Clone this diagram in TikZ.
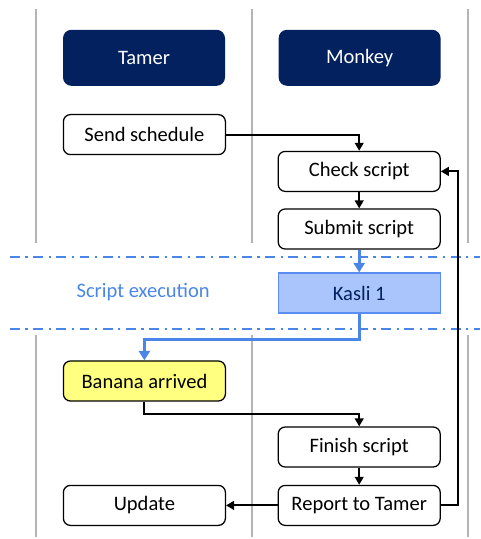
\documentclass[tikz,border=0pt]{standalone}
\usepackage{fontspec}
\setmainfont{Carlito}
\usepackage{tikz}
\usetikzlibrary{arrows.meta, positioning, calc}
\definecolor{navy}{HTML}{03215F}
\definecolor{execblue}{HTML}{4A86E8}
\definecolor{kaslifill}{HTML}{A9C5FB}
\definecolor{kasliedge}{HTML}{5B8EF5}
\definecolor{banana}{HTML}{FFFF80}
\definecolor{lanegray}{HTML}{B4B4B4}

\begin{document}
\begin{tikzpicture}[
  header/.style={rectangle, fill=navy, text=white,
    minimum width=4.05cm, minimum height=1.4cm, align=center,
    font=\fontsize{14.6}{17}\selectfont, rounded corners=6pt},
  stepbox/.style={rectangle, draw=black, fill=white, line width=0.9pt,
    minimum width=4.05cm, minimum height=1cm, align=center,
    font=\fontsize{14.6}{17}\selectfont, rounded corners=5pt},
  flow/.style={line width=1.3pt, -{Triangle[length=2mm,width=2.2mm]}},
  execflow/.style={execblue, line width=2pt, -{Triangle[length=2.4mm,width=2.8mm]}},
  lane/.style={lanegray, line width=0.8pt},
  band/.style={execblue, line width=1.2pt,
    dash pattern=on 7pt off 4pt on 1.5pt off 4pt},
]
  \useasboundingbox (0,0) rectangle (12,13.475);

  % Lanes
  \foreach \lx in {0.9,6.3,11.7} {
    \draw[lane] (\lx,13.25) -- (\lx,7.4);
    \draw[lane] (\lx,5.1) -- (\lx,0.05);
  }

  % Headers
  \node[header] (tamer) at (3.6,12.03) {Tamer};
  \node[header] (monkey) at (8.99,12.03) {Monkey};

  % Tamer side
  \node[stepbox] (send) at (3.61,10.11) {Send schedule};
  \node[stepbox, fill=banana] (banana) at (3.61,3.95) {Banana arrived};
  \node[stepbox] (update) at (3.61,0.84) {Update};

  % Monkey side
  \node[stepbox] (check) at (8.98,9.19) {Check script};
  \node[stepbox] (submit) at (8.98,7.75) {Submit script};
  \node[stepbox] (finish) at (8.98,2.3) {Finish script};
  \node[stepbox] (report) at (8.98,0.84) {Report to Tamer};

  % Script execution band
  \draw[band] (0.25,7.05) -- (12,7.05);
  \draw[band] (0.25,5.25) -- (12,5.25);
  \node[text=execblue, font=\fontsize{14.6}{17}\selectfont] (execlabel)
    at (3.58,6.18) {Script execution};
  \node[rectangle, draw=kasliedge, fill=kaslifill, text=navy, line width=0.9pt,
    minimum width=4.05cm, minimum height=1cm,
    font=\fontsize{14.6}{17}\selectfont] (kasli) at (8.98,6.15) {Kasli 1};

  % Connectors
  \coordinate (kasliturn) at (8.98,4.98);
  \coordinate (bananaturn) at (3.61,3.13);
  \coordinate (loopback) at (11.45,0.84);
  \draw[flow] (send.east) -| (check.north);
  \draw[flow] (check) -- (submit);
  \draw[execflow] (submit) -- (kasli);
  \draw[execflow] (kasli.south) -- (kasliturn) -| (banana.north);
  \draw[flow] (banana.south) -- (bananaturn) -| (finish.north);
  \draw[flow] (finish) -- (report);
  \draw[flow] (report) -- (update);
  \draw[flow] (report.east) -- (loopback) |- (check.east);
\end{tikzpicture}
\end{document}
